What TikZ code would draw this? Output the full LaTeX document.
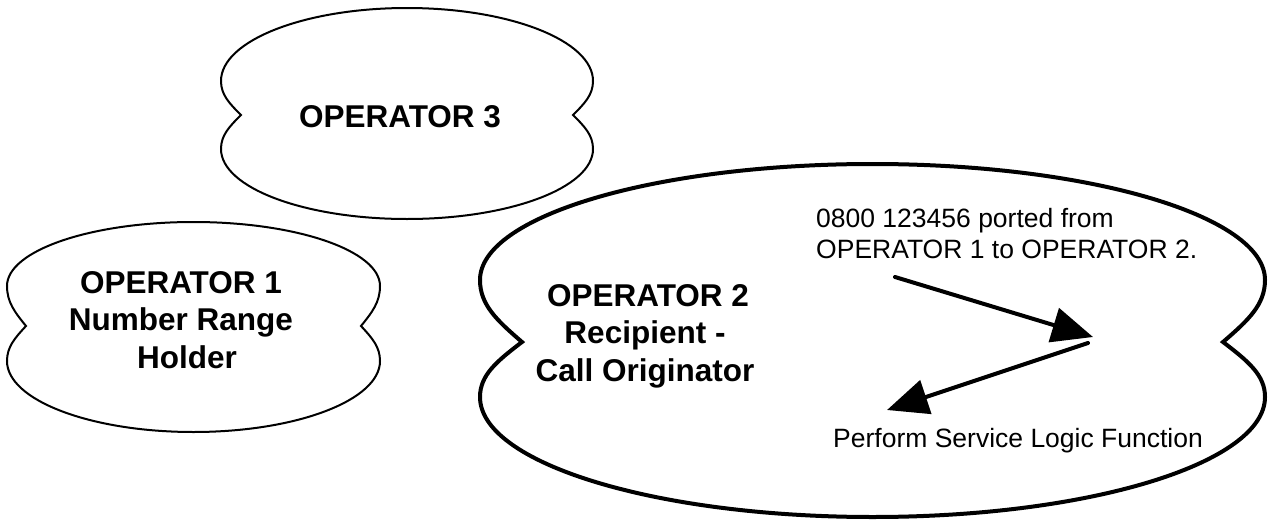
\documentclass[tikz,border=0pt]{standalone}
\usepackage{fontspec}
\setmainfont{Liberation Sans}
\usetikzlibrary{arrows.meta}
\newcommand\cloudoutline[9]{% #1 style, #2 cx, #3 cy, #4 W, #5 Htop, #6 Hbot, #7 d, #8 htop, #9 hbot
\draw[#1] ({#2-#4+#7},{#3})
 .. controls ({#2-#4+0.4*#7},{#3-0.35*#8}) and ({#2-#4},{#3-0.6*#8}) .. ({#2-#4},{#3-#8})
 .. controls ({#2-#4},{#3-#8-0.552*(#5-#8)}) and ({#2-0.552*#4},{#3-#5}) .. ({#2},{#3-#5})
 .. controls ({#2+0.552*#4},{#3-#5}) and ({#2+#4},{#3-#8-0.552*(#5-#8)}) .. ({#2+#4},{#3-#8})
 .. controls ({#2+#4},{#3-0.6*#8}) and ({#2+#4-0.4*#7},{#3-0.35*#8}) .. ({#2+#4-#7},{#3})
 .. controls ({#2+#4-0.4*#7},{#3+0.35*#9}) and ({#2+#4},{#3+0.6*#9}) .. ({#2+#4},{#3+#9})
 .. controls ({#2+#4},{#3+#9+0.552*(#6-#9)}) and ({#2+0.552*#4},{#3+#6}) .. ({#2},{#3+#6})
 .. controls ({#2-0.552*#4},{#3+#6}) and ({#2-#4},{#3+#9+0.552*(#6-#9)}) .. ({#2-#4},{#3+#9})
 .. controls ({#2-#4},{#3+0.6*#9}) and ({#2-#4+0.4*#7},{#3+0.35*#9}) .. cycle;}
\begin{document}
\begin{tikzpicture}[x=1pt,y=-1pt,
  thincloud/.style={line width=2pt,line join=miter},
  thickcloud/.style={line width=4pt,line join=miter},
  boldlabel/.style={font=\fontsize{31.5}{37.5}\selectfont\bfseries,align=center,inner sep=0pt},
  plainlabel/.style={font=\fontsize{26.5}{31}\selectfont,align=left,inner sep=0pt},
  flowarrow/.style={line width=4pt,line cap=round,-{Triangle[length=41pt,width=35pt]}}]
\useasboundingbox (0,0) rectangle (1274,522);
% clouds
\cloudoutline{thincloud}{407}{115}{186}{107}{104}{20}{34}{34}
\cloudoutline{thincloud}{193.5}{326}{186.5}{104}{106}{19}{40}{35}
\cloudoutline{thickcloud}{872.5}{342}{392.5}{178}{175}{42}{62}{55}
% labels
\node[boldlabel] (op3) at (400,117) {OPERATOR 3};
\node[boldlabel] (op1) at (181,320) {OPERATOR 1\\Number Range\hspace{14pt}\\\hspace{12pt}Holder};
\node[boldlabel] (op2) at (645,336) {\hspace{6pt}OPERATOR 2\\Recipient -\hspace{4pt}\\Call Originator};
\node[plainlabel,anchor=north west] (ported) at (816,208) {0800 123456 ported from\\OPERATOR 1 to OPERATOR 2.};
\node[plainlabel,anchor=base west] (perform) at (833,447) {Perform Service Logic Function};
% arrows
\coordinate (a1s) at (895,277);
\coordinate (a1e) at (1093,337);
\coordinate (a2s) at (1088,343);
\coordinate (a2e) at (887,410);
\draw[flowarrow] (a1s) -- (a1e);
\draw[flowarrow] (a2s) -- (a2e);
\end{tikzpicture}
\end{document}
